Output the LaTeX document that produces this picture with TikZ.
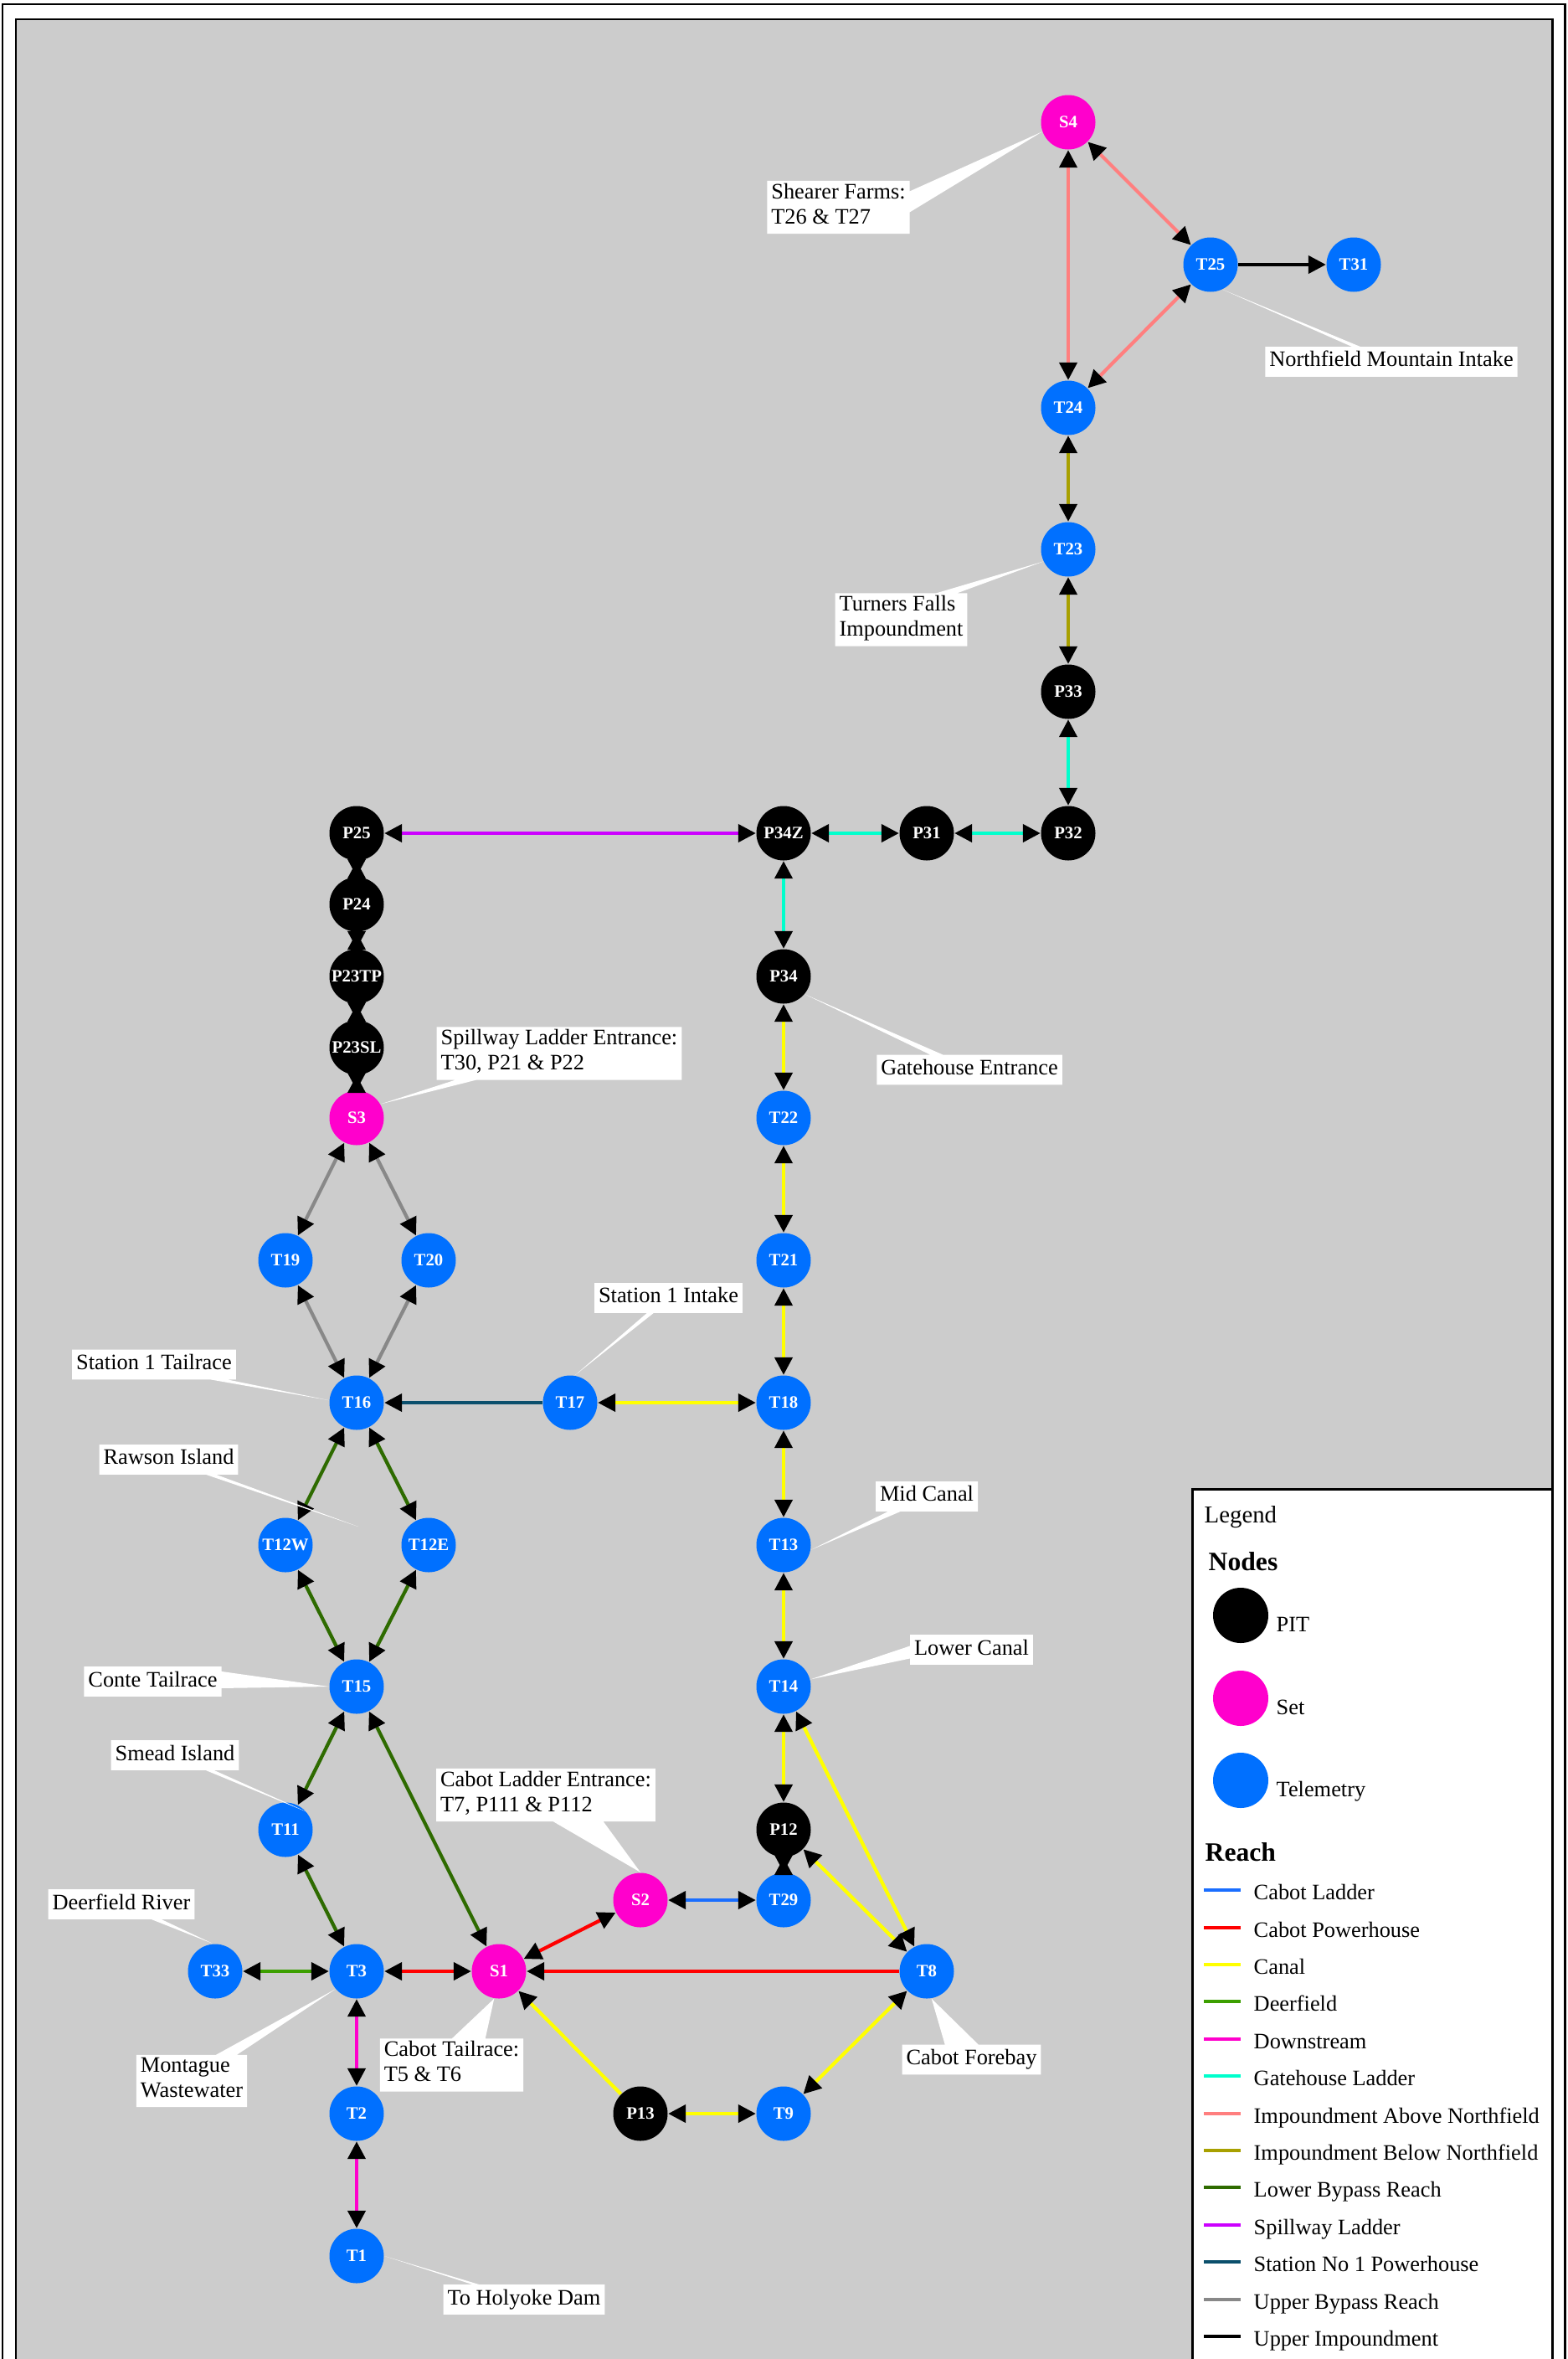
\documentclass[tikz,border=0pt]{standalone}
\usepackage{fontspec}
\setmainfont{Liberation Serif}
\usetikzlibrary{arrows.meta,shapes.callouts}

\definecolor{panel}{HTML}{CCCCCC}
\definecolor{telblue}{HTML}{0070FF}
\definecolor{setpink}{HTML}{FF00CC}
\definecolor{cladder}{HTML}{1A6EFF}
\definecolor{cpower}{HTML}{FF0000}
\definecolor{canal}{HTML}{FFFF00}
\definecolor{deer}{HTML}{3C9F00}
\definecolor{down}{HTML}{FF00CC}
\definecolor{gate}{HTML}{00FFCC}
\definecolor{impabove}{HTML}{FF7F7F}
\definecolor{impbelow}{HTML}{A8A000}
\definecolor{lowbyp}{HTML}{2E6B00}
\definecolor{spill}{HTML}{CC00FF}
\definecolor{statone}{HTML}{0B4F6C}
\definecolor{upbyp}{HTML}{888888}
\definecolor{upimp}{HTML}{000000}

\newcommand{\lblfont}{\fontsize{7.5}{8.5}\selectfont}
\newcommand{\ndfont}{\fontsize{5.9}{7}\selectfont\bfseries}
\newcommand{\legfont}{\fontsize{8.2}{9}\selectfont}
\newcommand{\headfont}{\fontsize{9}{10}\selectfont\bfseries}

\begin{document}
\begin{tikzpicture}[
    nd/.style={circle, minimum size=0.65cm, inner sep=0pt, text=white, font=\ndfont},
    pit/.style={nd, fill=black},
    setnd/.style={nd, fill=setpink},
    tel/.style={nd, fill=telblue},
    hd/.tip={Triangle[length=0.21cm, width=0.21cm, color=black]},
    ar/.style={line width=1.2pt, hd-hd},
    ar1/.style={line width=1.2pt, -hd},
    call/.style={rectangle callout, fill=white, font=\lblfont, align=left,
        inner xsep=0.05cm, inner ysep=0.03cm, callout pointer width=0.2cm,
        execute at begin node=\strut, execute at end node=\strut},
    legtxt/.style={anchor=base west, inner sep=0pt, font=\lblfont},
    swatch/.style={line width=1.2pt}
]
\useasboundingbox (0,0) rectangle (18.72,-28.17);

% frame and panel
\fill[white] (0,0) rectangle (18.72,-28.17);
\draw[line width=0.85pt] (0.03,-0.05) rectangle (18.69,-28.6);
\draw[fill=panel, line width=0.85pt] (0.19,-0.23) rectangle (18.54,-28.6);

% nodes
\node[setnd] (s4)    at (12.76,-1.46)  {S4};
\node[tel]   (t25)   at (14.46,-3.16)  {T25};
\node[tel]   (t31)   at (16.17,-3.16)  {T31};
\node[tel]   (t24)   at (12.76,-4.87)  {T24};
\node[tel]   (t23)   at (12.76,-6.56)  {T23};
\node[pit]   (p33)   at (12.76,-8.26)  {P33};
\node[pit]   (p32)   at (12.76,-9.95)  {P32};
\node[pit]   (p31)   at (11.07,-9.95)  {P31};
\node[pit]   (p34z)  at (9.36,-9.95)   {P34Z};
\node[pit]   (p34)   at (9.36,-11.66)  {P34};
\node[tel]   (t22)   at (9.36,-13.35)  {T22};
\node[tel]   (t21)   at (9.36,-15.05)  {T21};
\node[tel]   (t18)   at (9.36,-16.75)  {T18};
\node[tel]   (t13)   at (9.36,-18.45)  {T13};
\node[tel]   (t14)   at (9.36,-20.14)  {T14};
\node[pit]   (p12)   at (9.36,-21.85)  {P12};
\node[tel]   (t29)   at (9.36,-22.69)  {T29};
\node[setnd] (s2)    at (7.65,-22.69)  {S2};
\node[tel]   (t8)    at (11.07,-23.54) {T8};
\node[tel]   (t9)    at (9.36,-25.24)  {T9};
\node[pit]   (p13)   at (7.65,-25.24)  {P13};
\node[setnd] (s1)    at (5.96,-23.54)  {S1};
\node[tel]   (t3)    at (4.26,-23.54)  {T3};
\node[tel]   (t33)   at (2.57,-23.54)  {T33};
\node[tel]   (t2)    at (4.26,-25.24)  {T2};
\node[tel]   (t1)    at (4.26,-26.94)  {T1};
\node[tel]   (t11)   at (3.41,-21.85)  {T11};
\node[tel]   (t15)   at (4.26,-20.14)  {T15};
\node[tel]   (t12w)  at (3.41,-18.45)  {T12W};
\node[tel]   (t12e)  at (5.12,-18.45)  {T12E};
\node[tel]   (t16)   at (4.26,-16.75)  {T16};
\node[tel]   (t17)   at (6.81,-16.75)  {T17};
\node[tel]   (t19)   at (3.41,-15.05)  {T19};
\node[tel]   (t20)   at (5.12,-15.05)  {T20};
\node[setnd] (s3)    at (4.26,-13.35)  {S3};
\node[pit]   (p23sl) at (4.26,-12.51)  {P23SL};
\node[pit]   (p23tp) at (4.26,-11.66)  {P23TP};
\node[pit]   (p24)   at (4.26,-10.80)  {P24};
\node[pit]   (p25)   at (4.26,-9.95)   {P25};
\coordinate (rawson) at (4.28,-18.23);

% impoundment
\draw[ar, impabove] (s4) -- (t24);
\draw[ar, impabove] (s4) -- (t25);
\draw[ar, impabove] (t25) -- (t24);
\draw[ar1, upimp] (t25) -- (t31);
\draw[ar, impbelow] (t24) -- (t23);
\draw[ar, impbelow] (t23) -- (p33);

% ladders
\draw[ar, gate] (p33) -- (p32);
\draw[ar, gate] (p32) -- (p31);
\draw[ar, gate] (p31) -- (p34z);
\draw[ar, gate] (p34z) -- (p34);
\draw[ar, spill] (p25) -- (p34z);
% short links, one head each way
\draw[ar1, upimp] (p25) -- (p24);
\draw[ar1, upimp] (p24) -- (p25);
\draw[ar1, upimp] (p24) -- (p23tp);
\draw[ar1, upimp] (p23tp) -- (p24);
\draw[ar1, upimp] (p23tp) -- (p23sl);
\draw[ar1, upimp] (p23sl) -- (p23tp);
\draw[ar1, upimp] (p23sl) -- (s3);
\draw[ar1, upimp] (s3) -- (p23sl);

% bypass
\draw[ar, upbyp] (s3) -- (t19);
\draw[ar, upbyp] (s3) -- (t20);
\draw[ar, upbyp] (t19) -- (t16);
\draw[ar, upbyp] (t20) -- (t16);
\draw[ar1, statone] (t17) -- (t16);
\draw[ar, lowbyp] (t16) -- (t12w);
\draw[ar, lowbyp] (t16) -- (t12e);
\draw[ar, lowbyp] (t12w) -- (t15);
\draw[ar, lowbyp] (t12e) -- (t15);
\draw[ar, lowbyp] (t15) -- (t11);
\draw[ar, lowbyp] (t15) -- (s1);
\draw[ar, lowbyp] (t11) -- (t3);

% canal
\draw[ar, canal] (t17) -- (t18);
\draw[ar, canal] (t18) -- (t21);
\draw[ar, canal] (t21) -- (t22);
\draw[ar, canal] (t22) -- (p34);
\draw[ar, canal] (t18) -- (t13);
\draw[ar, canal] (t13) -- (t14);
\draw[ar, canal] (t14) -- (p12);
\draw[ar, canal] (t14) -- (t8);
\draw[ar, canal] (p12) -- (t8);
\draw[ar, canal] (t8) -- (t9);
\draw[ar, canal] (p13) -- (t9);
\draw[ar1, canal] (p13) -- (s1);
\draw[ar1, upimp] (p12) -- (t29);
\draw[ar1, upimp] (t29) -- (p12);

% cabot
\draw[ar, cladder] (t29) -- (s2);
\draw[ar, cpower] (s2) -- (s1);
\draw[ar1, cpower] (t8) -- (s1);
\draw[ar, cpower] (s1) -- (t3);
\draw[ar, deer] (t3) -- (t33);
\draw[ar, down] (t3) -- (t2);
\draw[ar, down] (t2) -- (t1);

% callouts
\node[call, callout pointer width=0.25cm, callout absolute pointer={(s4.200)}] (shearer) at (10.015,-2.475) {Shearer Farms:\\T26 \& T27};
\node[call, callout pointer width=0.1cm, callout absolute pointer={(t25.-64)}] (northfield) at (16.62,-4.32) {Northfield Mountain Intake};
\node[call, callout pointer width=0.25cm, callout absolute pointer={(t23.206)}] (turners) at (10.765,-7.40) {Turners Falls\\Impoundment};
\node[call, callout pointer width=0.25cm, callout absolute pointer={(s3.30)}] (spillent) at (6.68,-12.58) {Spillway Ladder Entrance:\\T30, P21 \& P22};
\node[call, callout pointer width=0.15cm, callout absolute pointer={(p34.-40)}] (gatehouse) at (11.58,-12.775) {Gatehouse Entrance};
\node[call, callout pointer width=0.08cm, callout absolute pointer={(t17.80)}] (stintake) at (7.985,-15.50) {Station 1 Intake};
\node[call, callout pointer width=0.2cm, callout absolute pointer={(t16.175)}] (sttail) at (1.84,-16.295) {Station 1 Tailrace};
\node[call, callout pointer width=0.12cm, callout absolute pointer={(rawson)}] (rawsonlbl) at (2.015,-17.43) {Rawson Island};
\node[call, callout pointer width=0.2cm, callout absolute pointer={(t15.west)}] (conte) at (1.825,-20.08) {Conte Tailrace};
\node[call, callout pointer width=0.15cm, callout absolute pointer={(t13.-10)}] (midcanal) at (11.07,-17.87) {Mid Canal};
\node[call, callout pointer width=0.15cm, callout absolute pointer={(t14.15)}] (lowcanal) at (11.605,-19.70) {Lower Canal};
\node[call, callout pointer width=0.1cm, callout absolute pointer={(t11.40)}] (smead) at (2.09,-20.96) {Smead Island};
\node[call, callout pointer width=0.6cm, callout absolute pointer={(s2.north)}] (cabotent) at (6.52,-21.435) {Cabot Ladder Entrance:\\T7, P111 \& P112};
\node[call, callout pointer width=0.12cm, callout absolute pointer={(t33.95)}] (deerriver) at (1.45,-22.74) {Deerfield River};
\node[call, callout pointer width=0.25cm, callout absolute pointer={(t3.220)}] (montague) at (2.29,-24.85) {Montague\\Wastewater};
\node[call, callout pointer width=0.4cm, callout absolute pointer={(s1.260)}] (cabottail) at (5.395,-24.66) {Cabot Tailrace:\\T5 \& T6};
\node[call, callout pointer width=0.4cm, callout absolute pointer={(t8.-80)}] (forebay) at (11.605,-24.595) {Cabot Forebay};
\node[call, callout pointer width=0.08cm, callout absolute pointer={(t1.east)}] (holyoke) at (6.26,-27.46) {To Holyoke Dam};

% legend
\draw[fill=white, line width=0.85pt] (14.24,-17.78) rectangle (18.54,-28.6);
\node[legtxt, font=\legfont] (legtitle) at (14.38,-18.18) {Legend};
\node[legtxt, font=\headfont] (legnodes) at (14.43,-18.75) {Nodes};
\node[pit, minimum size=0.66cm] (legpit) at (14.82,-19.29) {};
\node[legtxt] (legpittxt) at (15.24,-19.48) {PIT};
\node[setnd, minimum size=0.66cm] (legset) at (14.82,-20.28) {};
\node[legtxt] (legsettxt) at (15.24,-20.47) {Set};
\node[tel, minimum size=0.66cm] (legtel) at (14.82,-21.26) {};
\node[legtxt] (legteltxt) at (15.24,-21.45) {Telemetry};
\node[legtxt, font=\headfont] (legreach) at (14.39,-22.22) {Reach};

\draw[swatch, cladder]  (14.38,-22.57) -- (14.82,-22.57);
\node[legtxt] (r1) at (14.97,-22.68) {Cabot Ladder};
\draw[swatch, cpower]   (14.38,-23.02) -- (14.82,-23.02);
\node[legtxt] (r2) at (14.97,-23.13) {Cabot Powerhouse};
\draw[swatch, canal]    (14.38,-23.46) -- (14.82,-23.46);
\node[legtxt] (r3) at (14.97,-23.57) {Canal};
\draw[swatch, deer]     (14.38,-23.90) -- (14.82,-23.90);
\node[legtxt] (r4) at (14.97,-24.01) {Deerfield};
\draw[swatch, down]     (14.38,-24.35) -- (14.82,-24.35);
\node[legtxt] (r5) at (14.97,-24.46) {Downstream};
\draw[swatch, gate]     (14.38,-24.79) -- (14.82,-24.79);
\node[legtxt] (r6) at (14.97,-24.90) {Gatehouse Ladder};
\draw[swatch, impabove] (14.38,-25.24) -- (14.82,-25.24);
\node[legtxt] (r7) at (14.97,-25.35) {Impoundment Above Northfield};
\draw[swatch, impbelow] (14.38,-25.68) -- (14.82,-25.68);
\node[legtxt] (r8) at (14.97,-25.79) {Impoundment Below Northfield};
\draw[swatch, lowbyp]   (14.38,-26.12) -- (14.82,-26.12);
\node[legtxt] (r9) at (14.97,-26.23) {Lower Bypass Reach};
\draw[swatch, spill]    (14.38,-26.57) -- (14.82,-26.57);
\node[legtxt] (r10) at (14.97,-26.68) {Spillway Ladder};
\draw[swatch, statone]  (14.38,-27.01) -- (14.82,-27.01);
\node[legtxt] (r11) at (14.97,-27.12) {Station No 1 Powerhouse};
\draw[swatch, upbyp]    (14.38,-27.46) -- (14.82,-27.46);
\node[legtxt] (r12) at (14.97,-27.57) {Upper Bypass Reach};
\draw[swatch, upimp]    (14.38,-27.90) -- (14.82,-27.90);
\node[legtxt] (r13) at (14.97,-28.01) {Upper Impoundment};
\end{tikzpicture}
\end{document}
